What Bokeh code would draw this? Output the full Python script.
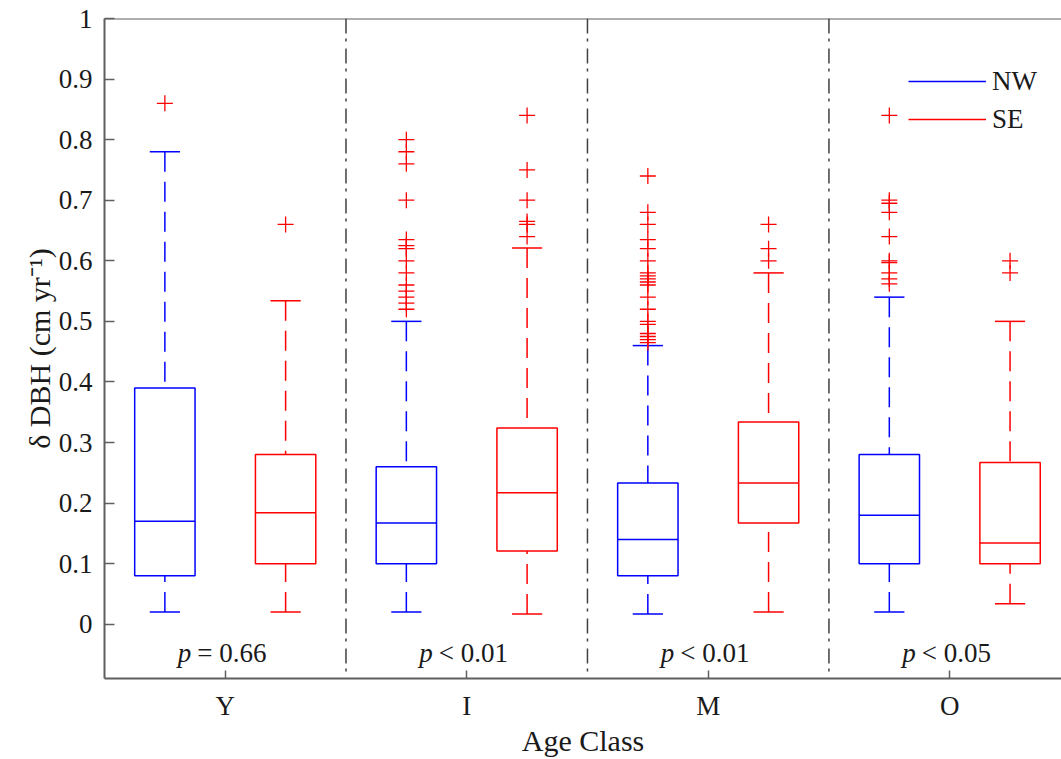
from bokeh.plotting import figure
from bokeh.models import (FixedTicker, Range1d, Legend, LegendItem,
                          ColumnDataSource, Span)
from bokeh.core.properties import value
from bokeh.embed import file_html
from bokeh.resources import INLINE

# ---------------- data ----------------
categories = ["Y", "I", "M", "O"]
p_prefix = ["p", "p", "p", "p"]
p_values = ["= 0.66", "< 0.01", "< 0.01", "< 0.05"]

nw_lo = [0.020, 0.020, 0.017, 0.020]
nw_q1 = [0.080, 0.100, 0.080, 0.100]
nw_med = [0.170, 0.167, 0.140, 0.180]
nw_q3 = [0.390, 0.260, 0.233, 0.280]
nw_hi = [0.780, 0.500, 0.460, 0.540]

se_lo = [0.020, 0.017, 0.020, 0.034]
se_q1 = [0.100, 0.121, 0.167, 0.100]
se_med = [0.184, 0.217, 0.233, 0.134]
se_q3 = [0.280, 0.324, 0.334, 0.267]
se_hi = [0.534, 0.621, 0.580, 0.500]

nw_outliers = [
    [0.86],
    [0.80, 0.78, 0.76, 0.70, 0.635, 0.625, 0.62, 0.60, 0.58, 0.56, 0.55, 0.54, 0.53, 0.52],
    [0.74, 0.68, 0.66, 0.635, 0.62, 0.60, 0.58, 0.575, 0.57, 0.565, 0.56, 0.54, 0.52,
     0.50, 0.495, 0.48, 0.475, 0.47, 0.465],
    [0.84, 0.70, 0.695, 0.68, 0.64, 0.60, 0.597, 0.58, 0.57, 0.562],
]
se_outliers = [
    [0.66],
    [0.84, 0.75, 0.70, 0.665, 0.66, 0.64],
    [0.66, 0.62, 0.60],
    [0.60, 0.58],
]

y_ticks = [round(i * 0.1, 1) for i in range(11)]
y_tick_labels = ["0", "0.1", "0.2", "0.3", "0.4", "0.5", "0.6", "0.7", "0.8", "0.9", "1"]

# ---------------- style ----------------
FONT = "Liberation Serif"
AXIS_COLOR = "#5f5f5f"
TEXT_COLOR = "#1a1a1a"
NW_COLOR = "#0000FF"
SE_COLOR = "#FF0000"
OFFSET = 0.25
BOX_W = 0.25
CAP_W = 0.125

groups = list(range(1, len(categories) + 1))

p = figure(width=1061, height=759, output_backend="svg", toolbar_location=None,
           x_range=Range1d(0.5, 4.463), y_range=Range1d(-0.0896, 1.0),
           min_border_left=104, min_border_top=18, min_border_right=0,
           min_border_bottom=10)
p.outline_line_color = None
p.grid.visible = False
p.background_fill_color = "white"
p.border_fill_color = "white"

for ax in (p.xaxis[0], p.yaxis[0]):
    ax.axis_line_color = AXIS_COLOR
    ax.axis_line_width = 2
    ax.major_tick_line_color = AXIS_COLOR
    ax.major_tick_line_width = 1.5
    ax.major_tick_in = 10
    ax.major_tick_out = 0
    ax.minor_tick_line_color = None
    ax.major_label_text_font = FONT
    ax.major_label_text_font_size = "27px"
    ax.major_label_text_color = TEXT_COLOR
    ax.axis_label_text_font = FONT
    ax.axis_label_text_font_size = "30px"
    ax.axis_label_text_font_style = "normal"
    ax.axis_label_text_color = TEXT_COLOR

p.yaxis.ticker = FixedTicker(ticks=y_ticks)
p.yaxis.major_label_overrides = {t: s for t, s in zip(y_ticks, y_tick_labels)}
p.yaxis.major_label_standoff = 12
p.yaxis.axis_label = "δ DBH (cm yr⁻¹)"
p.yaxis.axis_label_standoff = 0

p.xaxis.ticker = FixedTicker(ticks=groups)
p.xaxis.major_label_overrides = {g: c for g, c in zip(groups, categories)}
p.xaxis.major_label_standoff = 12
p.xaxis.axis_label = "Age Class"
p.xaxis.axis_label_standoff = 0
p.xaxis.major_tick_in = 8

# top border of the box
p.add_layout(Span(location=1.0, dimension="width", line_color=AXIS_COLOR, line_width=2))

# group dividers (dash-dot)
for g in groups[:-1]:
    p.add_layout(Span(location=g + 0.5, dimension="height", line_color="#404040",
                      line_width=1.5, line_dash="15 5 3 7"))

def draw_series(off, lo, q1, med, q3, hi, outs, color):
    xs = [g + off for g in groups]
    src = ColumnDataSource(dict(
        x=xs, lo=lo, q1=q1, med=med, q3=q3, hi=hi,
        xl=[x - BOX_W / 2 for x in xs], xr=[x + BOX_W / 2 for x in xs],
        cl=[x - CAP_W / 2 for x in xs], cr=[x + CAP_W / 2 for x in xs]))
    # dashed whiskers, drawn from the cap toward the box
    p.segment(x0="x", y0="hi", x1="x", y1="q3", source=src, line_color=color,
              line_width=1.5, line_dash="20 10")
    p.segment(x0="x", y0="lo", x1="x", y1="q1", source=src, line_color=color,
              line_width=1.5, line_dash="20 10")
    # caps
    p.segment(x0="cl", y0="hi", x1="cr", y1="hi", source=src, line_color=color, line_width=1.5)
    p.segment(x0="cl", y0="lo", x1="cr", y1="lo", source=src, line_color=color, line_width=1.5)
    # box and median
    p.quad(left="xl", right="xr", bottom="q1", top="q3", source=src,
           fill_color=None, line_color=color, line_width=1.5)
    med_r = p.segment(x0="xl", y0="med", x1="xr", y1="med", source=src,
                      line_color=color, line_width=1.5)
    # outliers (red '+')
    ox, oy = [], []
    for g, vals in zip(groups, outs):
        for v in vals:
            ox.append(g + off)
            oy.append(v)
    p.scatter(ox, oy, marker="cross", size=16, line_color=SE_COLOR, line_width=1.3)
    return med_r

nw_r = draw_series(-OFFSET, nw_lo, nw_q1, nw_med, nw_q3, nw_hi, nw_outliers, NW_COLOR)
se_r = draw_series(OFFSET, se_lo, se_q1, se_med, se_q3, se_hi, se_outliers, SE_COLOR)

# p-value annotations
lab_src = ColumnDataSource(dict(x=groups, y=[-0.047] * 4, pre=p_prefix, val=p_values))
p.text(x="x", y="y", text="pre", source=lab_src, text_font=value(FONT),
       text_font_size="27px", text_font_style="italic", text_align="right",
       text_baseline="middle", x_offset=-34, text_color=TEXT_COLOR)
p.text(x="x", y="y", text="val", source=lab_src, text_font=value(FONT),
       text_font_size="27px", text_align="left", text_baseline="middle",
       x_offset=-28, text_color=TEXT_COLOR)

legend = Legend(items=[LegendItem(label="NW", renderers=[nw_r]),
                       LegendItem(label="SE", renderers=[se_r])],
                location=(804, 540), glyph_width=78, glyph_height=38,
                label_standoff=6, spacing=0, padding=0, margin=0,
                border_line_color=None, background_fill_color=None,
                label_text_font=FONT, label_text_font_size="27px",
                label_text_color=TEXT_COLOR, label_text_baseline="middle")
p.add_layout(legend)

open("out.html", "w").write(file_html(p, INLINE))
